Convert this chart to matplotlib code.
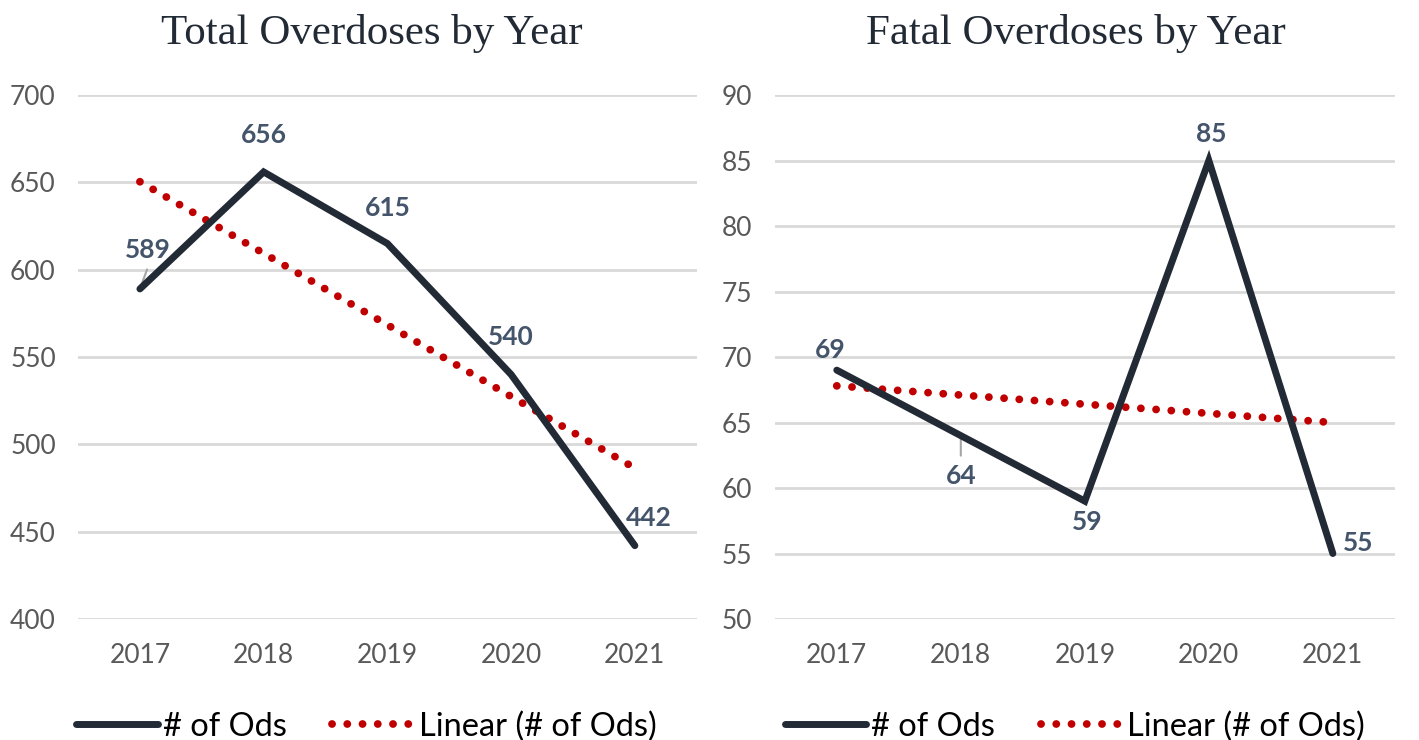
import numpy as np
import matplotlib.pyplot as plt

# data
years = ['2017', '2018', '2019', '2020', '2021']
total_ods = [589, 656, 615, 540, 442]
fatal_ods = [69, 64, 59, 85, 55]

# label offsets in pixels (dx, dy) and leader-line flags
total_offsets = [(8, 39), (0, 37), (0, 36), (0, 38), (14, 28)]
total_leader = [True, False, False, False, False]
fatal_offsets = [(-7, 20), (0, -40), (2, -21), (2, 27), (25, 11)]
fatal_leader = [False, True, False, False, False]

line_col = '#222A35'
trend_col = '#C00000'
label_col = '#44546A'
grid_col = '#D9D9D9'
tick_col = '#595959'

plt.rcParams['font.family'] = ['Lato', 'DejaVu Sans']

fig = plt.figure(figsize=(14.19, 7.40), dpi=100)
ax1 = fig.add_axes([0.055, 0.1635, 0.436, 0.708])
ax2 = fig.add_axes([0.546, 0.1635, 0.437, 0.708])


def draw(ax, vals, title, ylim, step, offsets, leaders, title_x, leg_x):
    x = np.arange(len(vals))
    ax.plot(x, vals, color=line_col, lw=5, solid_capstyle='round',
            solid_joinstyle='miter', label='# of Ods', zorder=3)
    # linear trendline (least squares, like the spreadsheet trendline)
    k, b = np.polyfit(x, vals, 1)
    ax.plot(x, k * x + b, color=trend_col, lw=5.6,
            linestyle=(0, (0.01, 1.95)), dash_capstyle='round',
            label='Linear (# of Ods)', zorder=2)
    for xi, v, (dx, dy), lead in zip(x, vals, offsets, leaders):
        ax.annotate(str(v), (xi, v), xytext=(dx, dy), textcoords='offset pixels',
                    ha='center', va='center', fontsize=19, fontweight='bold',
                    color=label_col, zorder=4)
        if lead:
            sgn = 1 if dy > 0 else -1
            ax.annotate('', (xi, v), xytext=(dx * 0.9, dy * 0.45 + sgn * 2),
                        textcoords='offset pixels',
                        arrowprops=dict(arrowstyle='-', color='#A6A6A6', lw=1.5,
                                        shrinkA=0, shrinkB=0), zorder=1)
    ax.set_xlim(-0.5, len(vals) - 0.5)
    ax.set_ylim(*ylim)
    ax.set_yticks(np.arange(ylim[0], ylim[1] + 1, step))
    ax.set_xticks(x)
    ax.set_xticklabels(years)
    ax.grid(axis='y', color=grid_col, lw=2)
    ax.set_axisbelow(True)
    for s in ax.spines.values():
        s.set_visible(False)
    ax.tick_params(axis='both', length=0, labelsize=19, colors=tick_col)
    ax.tick_params(axis='y', pad=16)
    ax.tick_params(axis='x', pad=17)
    ax.set_title(title, fontsize=31, family='Liberation Serif', color='#222A35',
                 pad=37, x=title_x)
    ax.legend(loc='upper center', bbox_to_anchor=(leg_x, -0.12), ncol=2,
              frameon=False, fontsize=23.5, handlelength=2.5, columnspacing=1.4,
              handletextpad=0.15, labelcolor='#000000')


draw(ax1, total_ods, 'Total Overdoses by Year', (400, 700), 50,
     total_offsets, total_leader, 0.475, 0.466)
draw(ax2, fatal_ods, 'Fatal Overdoses by Year', (50, 90), 5,
     fatal_offsets, fatal_leader, 0.485, 0.484)

fig.savefig('out.png', dpi=100)
